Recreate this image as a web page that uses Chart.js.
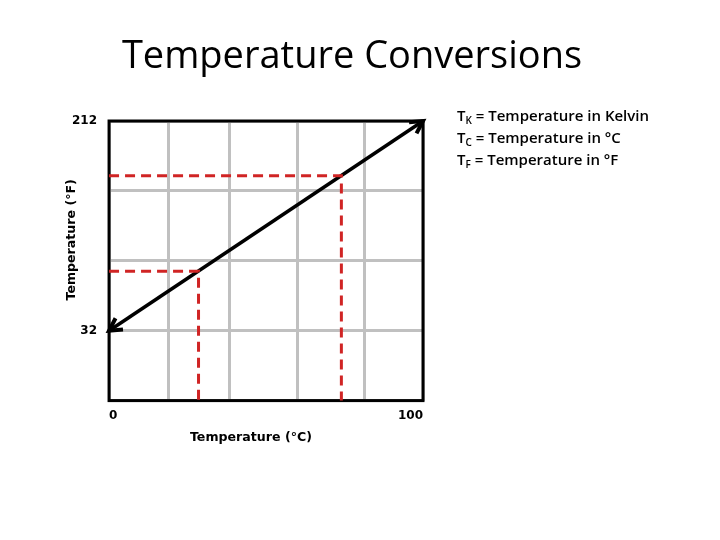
<!DOCTYPE html>
<html>
<head>
<meta charset="utf-8">
<script src="https://cdn.jsdelivr.net/npm/chart.js@4.4.0/dist/chart.umd.min.js"></script>
<style>
  html, body { margin: 0; padding: 0; background: #fff; }
  #wrap { position: relative; width: 720px; height: 540px; }
</style>
</head>
<body>
<div id="wrap"><canvas id="chart" width="720" height="540"></canvas></div>
<script>
(function () {
  'use strict';

  // ---- texts ----
  var TITLE = 'Temperature Conversions';
  var X_TITLE = 'Temperature (\u00B0C)';
  var Y_TITLE = 'Temperature (\u00B0F)';
  var KEY_SYMBOL = ['T', 'T', 'T'];
  var KEY_SUB = ['K', 'C', 'F'];
  var KEY_TEXT = [' = Temperature in Kelvin', ' = Temperature in \u00B0C', ' = Temperature in \u00B0F'];

  // ---- axes ----
  var X_MIN = 0, X_MAX = 100;
  var Y_MIN = -28, Y_MAX = 212;
  var X_GRID = [0, 19, 38.5, 60, 81.5, 100];
  var Y_GRID = [-28, 32, 92, 152, 212];
  var X_LABELS = [0, 100];
  var Y_LABELS = [32, 212];

  // ---- series ----
  var LINE_C = [0, 100];
  var LINE_F = [32, 212];
  var HIGH_C = [0, 74, 74];
  var HIGH_F = [165, 165, -28];
  var LOW_C = [0, 28.5, 28.5];
  var LOW_F = [83, 83, -28];

  var RED = '#d02424';
  var GRID = '#c0c0c0';
  var BOLD_FONT = { family: "'DejaVu Sans'", size: 12, weight: 'bold' };

  function toPoints(xs, ys) {
    return xs.map(function (x, i) { return { x: x, y: ys[i] }; });
  }

  var framePlugin = {
    id: 'frame',
    beforeDatasetsDraw: function (chart) {
      var a = chart.chartArea, ctx = chart.ctx;
      ctx.save();
      ctx.strokeStyle = '#000';
      ctx.lineWidth = 3;
      ctx.strokeRect(a.left, a.top, a.right - a.left, a.bottom - a.top);
      ctx.restore();
    }
  };

  // open arrowheads on both ends of the conversion line
  var arrowPlugin = {
    id: 'arrows',
    afterDatasetsDraw: function (chart) {
      var pts = chart.getDatasetMeta(2).data;
      if (pts.length < 2) return;
      var ctx = chart.ctx;
      var len = 14, spread = 0.5;
      function head(tip, from) {
        var ang = Math.atan2(tip.y - from.y, tip.x - from.x);
        ctx.beginPath();
        ctx.moveTo(tip.x - len * Math.cos(ang - spread), tip.y - len * Math.sin(ang - spread));
        ctx.lineTo(tip.x, tip.y);
        ctx.lineTo(tip.x - len * Math.cos(ang + spread), tip.y - len * Math.sin(ang + spread));
        ctx.stroke();
      }
      ctx.save();
      ctx.strokeStyle = '#000';
      ctx.lineWidth = 4;
      ctx.lineJoin = 'miter';
      head(pts[1], pts[0]);
      head(pts[0], pts[1]);
      ctx.restore();
    }
  };

  var textPlugin = {
    id: 'texts',
    afterDraw: function (chart) {
      var a = chart.chartArea, ctx = chart.ctx;
      ctx.save();
      ctx.fillStyle = '#000';
      ctx.textBaseline = 'middle';

      ctx.textAlign = 'center';
      ctx.font = "38px 'Open Sans'";
      ctx.fillText(TITLE, 352, 57);

      ctx.font = "bold 12.6px 'DejaVu Sans'";
      ctx.fillText(X_TITLE, a.left + (a.right - a.left) * 0.452, 438);
      ctx.translate(72, a.top + (a.bottom - a.top) * 0.425);
      ctx.rotate(-Math.PI / 2);
      ctx.fillText(Y_TITLE, 0, 0);
      ctx.setTransform(1, 0, 0, 1, 0, 0);

      ctx.textAlign = 'left';
      KEY_SYMBOL.forEach(function (sym, i) {
        var x = 457, y = 117 + i * 22;
        ctx.font = "600 15px 'Open Sans'";
        ctx.fillText(sym, x, y);
        x += ctx.measureText(sym).width;
        ctx.font = "600 10px 'Open Sans'";
        ctx.fillText(KEY_SUB[i], x, y + 4);
        x += ctx.measureText(KEY_SUB[i]).width;
        ctx.font = "600 15px 'Open Sans'";
        ctx.fillText(KEY_TEXT[i], x, y);
      });
      ctx.restore();
    }
  };

  function lineSet(label, xs, ys, color, width, dash) {
    return {
      label: label,
      data: toPoints(xs, ys),
      showLine: true,
      borderColor: color,
      backgroundColor: color,
      borderWidth: width,
      borderDash: dash,
      pointRadius: 0,
      fill: false,
      clip: false
    };
  }

  new Chart(document.getElementById('chart').getContext('2d'), {
    type: 'scatter',
    data: {
      datasets: [
        lineSet('high', HIGH_C, HIGH_F, RED, 3, [10, 6]),
        lineSet('low', LOW_C, LOW_F, RED, 3, [10, 6]),
        lineSet('conversion', LINE_C, LINE_F, '#000', 3.5, [])
      ]
    },
    options: {
      responsive: false,
      animation: false,
      devicePixelRatio: 1,
      layout: { padding: { left: 60, right: 297, top: 121, bottom: 109 } },
      plugins: {
        legend: { display: false },
        tooltip: { enabled: false },
        title: { display: false }
      },
      scales: {
        x: {
          type: 'linear',
          min: X_MIN,
          max: X_MAX,
          afterBuildTicks: function (s) { s.ticks = X_GRID.map(function (v) { return { value: v }; }); },
          grid: { color: GRID, lineWidth: 3, drawTicks: false },
          border: { display: false },
          ticks: {
            autoSkip: false,
            align: 'inner',
            padding: 8,
            color: '#000',
            font: BOLD_FONT,
            callback: function (v) { return X_LABELS.indexOf(v) >= 0 ? String(v) : ''; }
          }
        },
        y: {
          type: 'linear',
          min: Y_MIN,
          max: Y_MAX,
          afterBuildTicks: function (s) { s.ticks = Y_GRID.map(function (v) { return { value: v }; }); },
          grid: { color: GRID, lineWidth: 3, drawTicks: false },
          border: { display: false },
          ticks: {
            autoSkip: false,
            padding: 12,
            color: '#000',
            font: BOLD_FONT,
            callback: function (v) { return Y_LABELS.indexOf(v) >= 0 ? String(v) : ''; }
          }
        }
      }
    },
    plugins: [framePlugin, arrowPlugin, textPlugin]
  });
})();
</script>
</body>
</html>
